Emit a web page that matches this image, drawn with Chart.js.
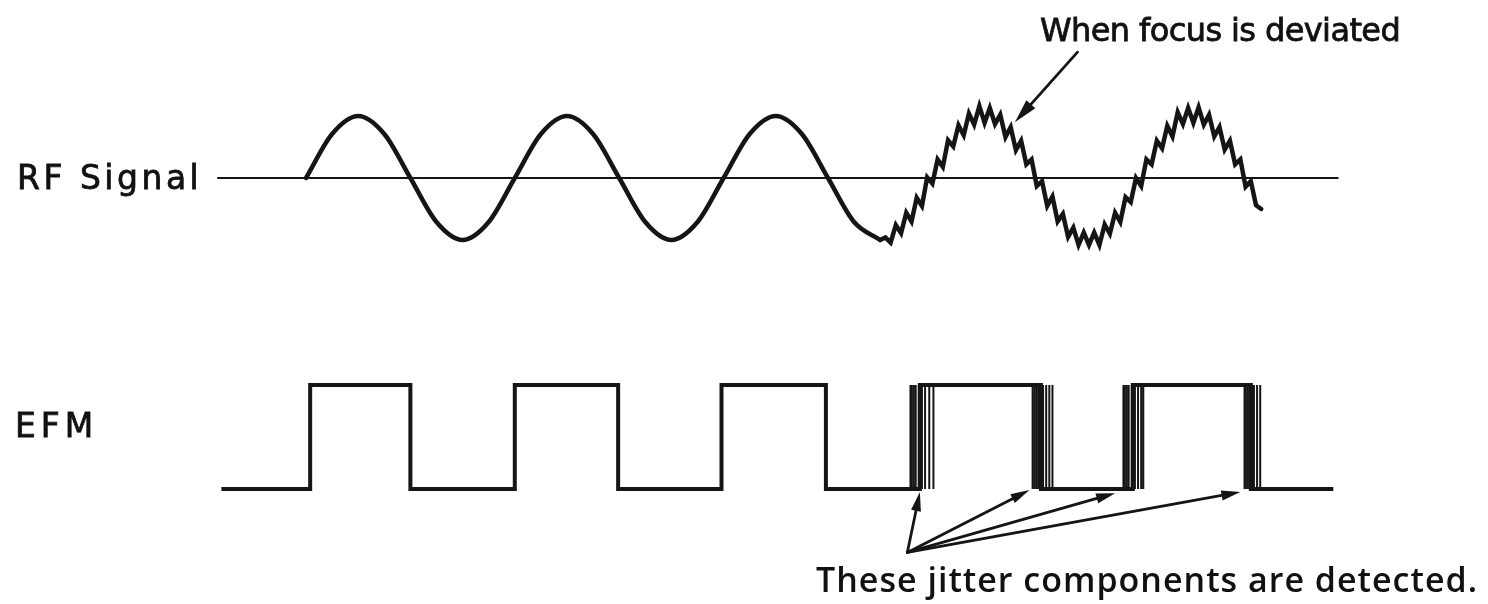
<!DOCTYPE html>
<html>
<head>
<meta charset="utf-8">
<title>RF Signal / EFM jitter</title>
<script src="https://cdn.jsdelivr.net/npm/chart.js@4.4.1/dist/chart.umd.min.js"></script>
<style>
  body { margin: 0; background: #fff; }
  #wrap { position: relative; width: 1488px; height: 604px; }
  .lbl { position: absolute; color: #111; white-space: nowrap; }
  .hand { font-family: "DejaVu Sans", sans-serif; font-size: 33px; line-height: 33px; -webkit-text-stroke: 0.8px #111; }
  #lbl-rf { left: 17px; top: 161px; letter-spacing: 3.5px; }
  #lbl-efm { left: 15px; top: 409px; letter-spacing: 5px; }
  #lbl-focus { left: 1040px; top: 14px; font-size: 32px; line-height: 32px; letter-spacing: -0.6px; }
  #lbl-jitter { right: 10px; top: 562px; font-family: "Open Sans", sans-serif; font-weight: 600; font-size: 34px; line-height: 34px; letter-spacing: 1px; }
</style>
</head>
<body>
<div id="wrap">
  <canvas id="chart"></canvas>
  <div class="lbl hand" id="lbl-rf">RF Signal</div>
  <div class="lbl hand" id="lbl-efm">EFM</div>
  <div class="lbl hand" id="lbl-focus">When focus is deviated</div>
  <div class="lbl" id="lbl-jitter">These jitter components are detected.</div>
</div>
<script>
// time axis: unit = half a period of the RF signal, 0 = first rising zero crossing
const rfAxisSpan = [-0.85, 9.89];

// clean RF signal (focus ok)
const rfCleanTimes = [0, 0.25, 0.5, 0.75, 1, 1.25, 1.5, 1.75, 2, 2.25, 2.5, 2.75,
                      3, 3.25, 3.5, 3.75, 4, 4.25, 4.5, 4.75, 5, 5.25, 5.5];
const rfCleanValues = [0, 0.71, 1, 0.71, 0, -0.71, -1, -0.71, 0, 0.71, 1, 0.71,
                       0, -0.71, -1, -0.71, 0, 0.71, 1, 0.71, 0, -0.71, -1];

// RF signal when focus is deviated, sampled every 0.05 from t = 5.5
const rfJitterStart = 5.5;
const rfJitterStep = 0.05;
const rfJitterValues = [
  -1.00, -0.96, -1.04, -0.76, -0.89, -0.56, -0.70, -0.32, -0.45, 0.01,
  -0.09, 0.30, 0.18, 0.61, 0.51, 0.85, 0.69, 1.04, 0.86, 1.16,
  0.89, 1.13, 0.87, 1.02, 0.66, 0.82, 0.45, 0.60, 0.22, 0.30,
  -0.13, -0.05, -0.45, -0.30, -0.70, -0.58, -0.95, -0.80, -1.08, -0.88,
  -1.08, -0.88, -1.08, -0.75, -0.90, -0.56, -0.71, -0.31, -0.39, 0.00,
  -0.13, 0.30, 0.22, 0.60, 0.48, 0.84, 0.67, 1.06, 0.87, 1.13,
  0.89, 1.14, 0.86, 1.02, 0.67, 0.82, 0.46, 0.60, 0.22, 0.30,
  -0.14, -0.05, -0.44, -0.50
];

// EFM: level changes (stepped line), last point only ends the trace
const efmEdgeTimes = [-0.81, 0.04, 1.0, 2.0, 2.99, 3.98, 4.98, 5.88, 7.04, 7.92, 9.05, 9.84];
const efmLevels    = [0, 1, 0, 1, 0, 1, 0, 1, 0, 1, 0, 0];

// jittered EFM edges
const efmJitterEdges = [
  5.79, 5.80, 5.82, 5.84, 5.87, 5.90, 5.93, 5.97, 6.01,
  6.96, 6.98, 7.00, 7.02, 7.04, 7.06, 7.09, 7.12, 7.15,
  7.83, 7.84, 7.86, 7.88, 7.91, 7.94, 7.97, 8.00, 8.02,
  8.99, 9.00, 9.02, 9.04, 9.06, 9.08, 9.11, 9.14
];

// annotation arrows [t, level]
const focusArrowFrom = [7.39, 2.03];   // on RF axis
const focusArrowTo = [6.79, 0.90];
const jitterArrowFrom = [5.76, -0.61]; // on EFM axis
const jitterArrowTips = [[5.88, -0.03], [6.93, -0.01], [7.75, -0.04], [8.95, -0.03]];

const INK = '#151515';

const rfJitterData = rfJitterValues.map((v, i) => ({ x: rfJitterStart + i * rfJitterStep, y: v }));
const edgeData = [];
efmJitterEdges.forEach(t => {
  edgeData.push({ x: t, y: 0 }, { x: t, y: 1 }, { x: t, y: null });
});

const arrowPlugin = {
  id: 'arrows',
  afterDatasetsDraw(chart) {
    const { ctx, scales } = chart;
    function arrow(axis, from, to, len, half) {
      const ys = scales[axis];
      const x0 = scales.x.getPixelForValue(from[0]), y0 = ys.getPixelForValue(from[1]);
      const x1 = scales.x.getPixelForValue(to[0]), y1 = ys.getPixelForValue(to[1]);
      const a = Math.atan2(y1 - y0, x1 - x0);
      const bx = x1 - len * Math.cos(a), by = y1 - len * Math.sin(a);
      ctx.save();
      ctx.strokeStyle = INK;
      ctx.fillStyle = INK;
      ctx.lineWidth = 2.8;
      ctx.lineCap = 'round';
      ctx.beginPath();
      ctx.moveTo(x0, y0);
      ctx.lineTo(bx, by);
      ctx.stroke();
      ctx.beginPath();
      ctx.moveTo(x1, y1);
      ctx.lineTo(bx + half * Math.sin(a), by - half * Math.cos(a));
      ctx.lineTo(bx - half * Math.sin(a), by + half * Math.cos(a));
      ctx.closePath();
      ctx.fill();
      ctx.restore();
    }
    arrow('yRF', focusArrowFrom, focusArrowTo, 24, 6);
    jitterArrowTips.forEach(tip => arrow('yEFM', jitterArrowFrom, tip, 19, 5));
  }
};

new Chart(document.getElementById('chart'), {
  type: 'line',
  data: {
    datasets: [
      {
        label: 'RF axis',
        data: rfAxisSpan.map(t => ({ x: t, y: 0 })),
        yAxisID: 'yRF',
        borderColor: INK,
        borderWidth: 2
      },
      {
        label: 'RF signal',
        data: rfCleanTimes.map((t, i) => ({ x: t, y: rfCleanValues[i] })),
        yAxisID: 'yRF',
        borderColor: INK,
        borderWidth: 4.5,
        cubicInterpolationMode: 'monotone',
        borderCapStyle: 'round'
      },
      {
        label: 'RF signal (focus deviated)',
        data: rfJitterData,
        yAxisID: 'yRF',
        borderColor: INK,
        borderWidth: 4.5,
        borderJoinStyle: 'miter',
        borderCapStyle: 'round'
      },
      {
        label: 'EFM',
        data: efmEdgeTimes.map((t, i) => ({ x: t, y: efmLevels[i] })),
        yAxisID: 'yEFM',
        borderColor: INK,
        borderWidth: 4,
        stepped: true,
        borderJoinStyle: 'miter'
      },
      {
        label: 'EFM jitter',
        data: edgeData,
        yAxisID: 'yEFM',
        borderColor: INK,
        borderWidth: 2,
        spanGaps: false
      }
    ]
  },
  options: {
    responsive: true,
    maintainAspectRatio: false,
    animation: false,
    layout: { padding: 0 },
    elements: { point: { radius: 0, hoverRadius: 0 }, line: { tension: 0 } },
    plugins: { legend: { display: false }, tooltip: { enabled: false } },
    scales: {
      x: { type: 'linear', display: false, min: -2.931, max: 11.322 },
      yRF: { type: 'linear', display: false, min: -6.871, max: 2.871 },
      yEFM: { type: 'linear', display: false, min: -1.106, max: 4.702 }
    }
  },
  plugins: [arrowPlugin]
});
</script>
</body>
</html>
